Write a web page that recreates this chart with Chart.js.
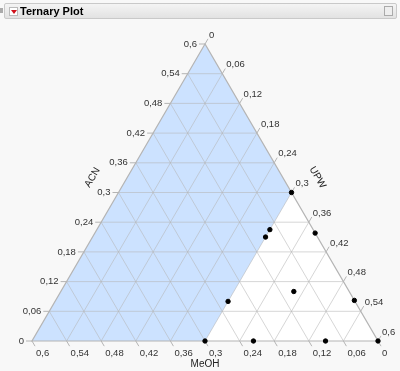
<!DOCTYPE html>
<html>
<head>
<meta charset="utf-8">
<script src="https://cdn.jsdelivr.net/npm/chart.js@4/dist/chart.umd.min.js"></script>
<style>
  html,body{margin:0;padding:0;background:#f8f8f8;width:400px;height:371px;overflow:hidden;}
  #hdr{position:absolute;left:4px;top:3px;width:393px;height:16px;border:1px solid #c9c9c9;border-radius:2px;
       background:linear-gradient(#f4f4f4,#e2e2e2);box-sizing:border-box;}
  #ico{position:absolute;left:4px;top:3px;width:9px;height:9px;background:#fff;border:1px solid #bbb;box-sizing:border-box;}
  #ico:after{content:"";position:absolute;left:1px;top:2px;border-left:3px solid transparent;border-right:3px solid transparent;border-top:4px solid #d0101a;}
  #ttl{position:absolute;left:15px;top:0px;font:bold 11px "Liberation Sans",Arial,sans-serif;line-height:15px;color:#000;}
  #ricon{position:absolute;right:3px;top:2px;width:9px;height:10px;border:1px solid #aaa;background:#eee;box-sizing:border-box;}
  #lm{position:absolute;left:0;top:8px;width:3px;height:5px;background:#aaa;}
  #c{position:absolute;left:0;top:0;}
</style>
</head>
<body>
<canvas id="c" width="400" height="371"></canvas>
<div id="lm"></div>
<div id="hdr"><div id="ico"></div><div id="ttl">Ternary Plot</div><div id="ricon"></div></div>
<script>
// ---- data (mixture components, total = 0.6) ----
const acn  = [0.30, 0.225, 0.21, 0.218, 0.08, 0.10, 0.082, 0.00, 0.00, 0.00, 0.00];
const meoh = [0.00, 0.075, 0.09, 0.000, 0.22, 0.096, 0.000, 0.30, 0.216, 0.091, 0.00];
const upw  = [0.30, 0.300, 0.30, 0.382, 0.30, 0.404, 0.518, 0.30, 0.384, 0.509, 0.60];
const tickValues = [0, 0.06, 0.12, 0.18, 0.24, 0.3, 0.36, 0.42, 0.48, 0.54, 0.6];
const tickLabels = ["0","0,06","0,12","0,18","0,24","0,3","0,36","0,42","0,48","0,54","0,6"];
const total = 0.6;
const upwLimit = 0.3; // shaded region: UPW below this

function toXY(a, m, u){ return {x:(u + a/2)/total, y:a/total}; }

const points = acn.map((a,i)=>toXY(a, meoh[i], upw[i]));

const ternary = {
  id:'ternary',
  beforeDatasetsDraw(chart){
    const ctx = chart.ctx, xs = chart.scales.x, ys = chart.scales.y;
    const P = (a,m,u)=>{const q=toXY(a,m,u);return {x:xs.getPixelForValue(q.x), y:ys.getPixelForValue(q.y)};};
    const line=(p,q)=>{ctx.beginPath();ctx.moveTo(p.x,p.y);ctx.lineTo(q.x,q.y);ctx.stroke();};
    const top=P(total,0,0), bl=P(0,total,0), br=P(0,0,total);
    ctx.save();
    // white triangle
    ctx.fillStyle='#ffffff';
    ctx.beginPath();ctx.moveTo(top.x,top.y);ctx.lineTo(bl.x,bl.y);ctx.lineTo(br.x,br.y);ctx.closePath();ctx.fill();
    // shaded region UPW < limit
    const s1=P(total-upwLimit,0,upwLimit), s2=P(0,total-upwLimit,upwLimit);
    ctx.fillStyle='#cce2ff';
    ctx.beginPath();ctx.moveTo(top.x,top.y);ctx.lineTo(s1.x,s1.y);ctx.lineTo(s2.x,s2.y);ctx.lineTo(bl.x,bl.y);ctx.closePath();ctx.fill();
    // grid
    ctx.strokeStyle='rgba(180,180,180,0.55)';ctx.lineWidth=1;
    tickValues.forEach(v=>{
      if(v<=0||v>=total) return;
      const r=total-v;
      line(P(v,r,0),P(v,0,r));   // ACN const
      line(P(r,0,v),P(0,r,v));   // UPW const
      line(P(r,v,0),P(0,v,r));   // MeOH const
    });
    // border
    ctx.strokeStyle='#b4b4b4';ctx.lineWidth=1.2;
    ctx.beginPath();ctx.moveTo(top.x,top.y);ctx.lineTo(bl.x,bl.y);ctx.lineTo(br.x,br.y);ctx.closePath();ctx.stroke();
    // ticks & labels
    ctx.font='9.5px "Liberation Sans", Arial, sans-serif';
    ctx.fillStyle='#333';
    ctx.strokeStyle='#b4b4b4';ctx.lineWidth=1;
    const dl={x:bl.x-top.x,y:bl.y-top.y}, Ll=Math.hypot(dl.x,dl.y);
    const ur={x:-dl.x/Ll,y:-dl.y/Ll}; // up-right
    const dr={x:br.x-top.x,y:br.y-top.y}, Lr=Math.hypot(dr.x,dr.y);
    const dn={x:dr.x/Lr,y:dr.y/Lr}; // down-right
    tickValues.forEach((v,i)=>{
      const lab=tickLabels[i];
      // ACN on left edge
      let p=P(v,total-v,0);
      line(p,{x:p.x-6,y:p.y});
      ctx.textAlign='right';ctx.textBaseline='middle';
      ctx.fillText(lab,p.x-8,p.y);
      // UPW on right edge
      p=P(total-v,0,v);
      const e={x:p.x+ur.x*6,y:p.y+ur.y*6};
      line(p,e);
      ctx.textAlign='left';ctx.textBaseline='bottom';
      ctx.fillText(lab,e.x+1,e.y+1);
      // MeOH on bottom edge
      p=P(0,v,total-v);
      line(p,{x:p.x+dn.x*6,y:p.y+dn.y*6});
      ctx.textAlign='left';ctx.textBaseline='middle';
      ctx.fillText(lab,p.x+4,p.y+12);
    });
    // axis titles
    ctx.font='10px "Liberation Sans", Arial, sans-serif';
    ctx.fillStyle='#222';ctx.textAlign='center';ctx.textBaseline='middle';
    const ml=P(total/2,total/2,0), mr=P(total/2,0,total/2), mb=P(0,total/2,total/2);
    ctx.save();ctx.translate(ml.x-0.866*30,ml.y-0.5*30);ctx.rotate(-Math.PI/3);ctx.fillText('ACN',0,0);ctx.restore();
    ctx.save();ctx.translate(mr.x+0.866*30,mr.y-0.5*30);ctx.rotate(Math.PI/3);ctx.fillText('UPW',0,0);ctx.restore();
    ctx.fillText('MeOH',mb.x,mb.y+23);
    ctx.restore();
  }
};

new Chart(document.getElementById('c'),{
  type:'scatter',
  data:{datasets:[{data:points,backgroundColor:'#000',borderColor:'#000',pointRadius:2.2,pointHoverRadius:2.2,clip:false}]},
  options:{
    responsive:false,animation:false,
    layout:{padding:{left:32,right:22,top:44,bottom:30}},
    plugins:{legend:{display:false},tooltip:{enabled:false}},
    scales:{
      x:{type:'linear',min:0,max:1,display:false},
      y:{type:'linear',min:0,max:1,display:false}
    }
  },
  plugins:[ternary]
});
</script>
</body>
</html>
